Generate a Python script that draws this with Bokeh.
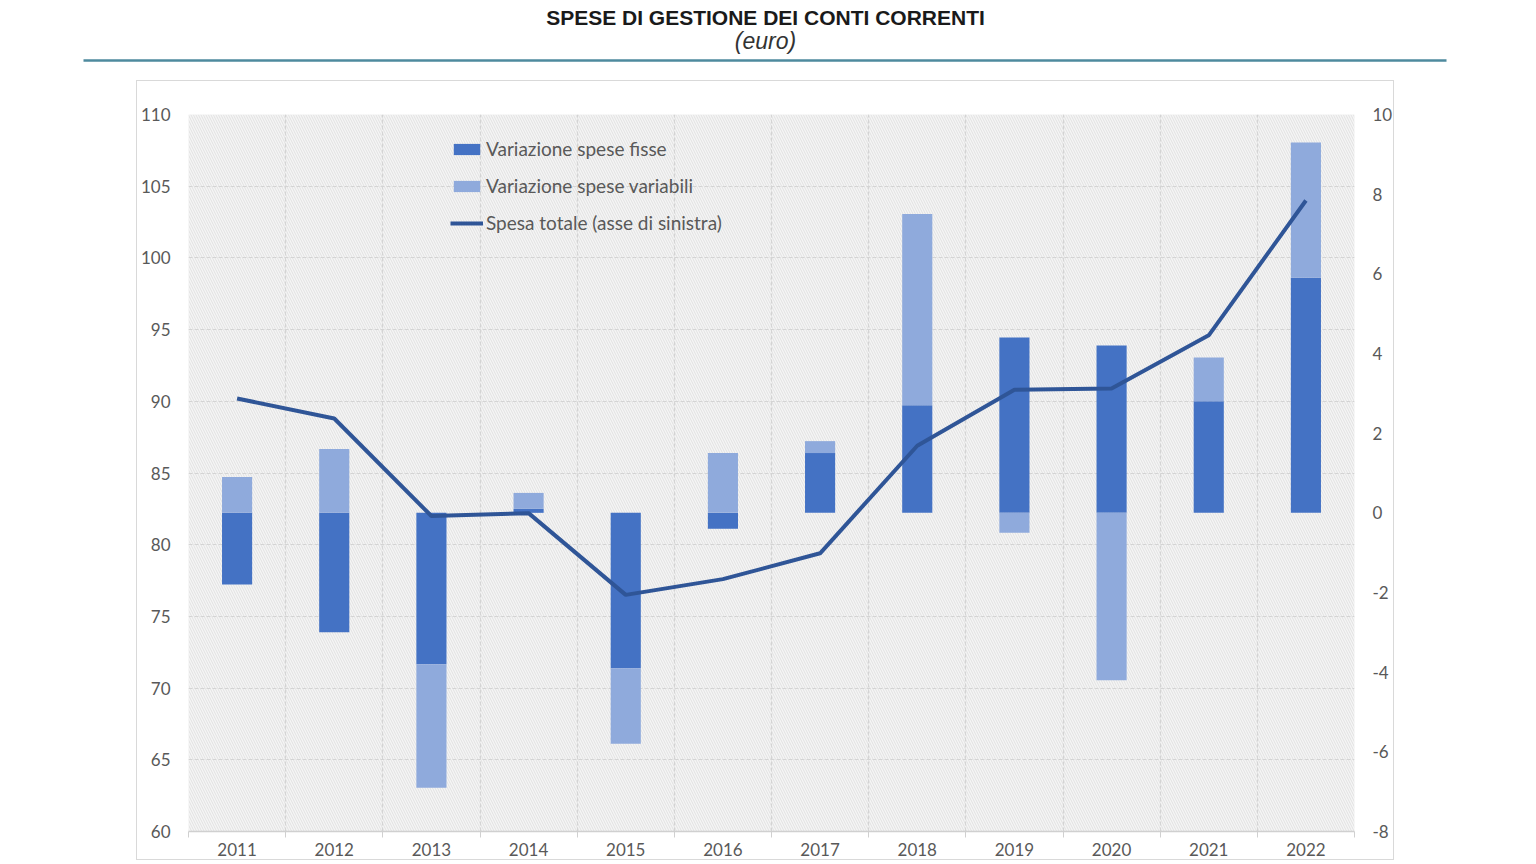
import numpy as np
from bokeh.plotting import figure
from bokeh.models import Range1d, LinearAxis, FixedTicker, Legend, Spacer
from bokeh.layouts import column, row
from bokeh.core.properties import value
from bokeh.embed import file_html
from bokeh.resources import INLINE

# dati
anni = ["2011", "2012", "2013", "2014", "2015", "2016", "2017", "2018", "2019", "2020", "2021", "2022"]
spesa_totale = [90.2, 88.8, 82.0, 82.2, 76.5, 77.6, 79.4, 86.9, 90.8, 90.9, 94.6, 104.0]
var_fisse = [-1.8, -3.0, -3.8, 0.1, -3.9, -0.4, 1.5, 2.7, 4.4, 4.2, 2.8, 5.9]
var_variabili = [0.9, 1.6, -3.1, 0.4, -1.9, 1.5, 0.3, 4.8, -0.5, -4.2, 1.1, 3.4]
tick_sinistra = list(range(60, 111, 5))
tick_destra = list(range(-8, 11, 2))

FONT = "Lato"
GRIGIO = "#595959"

# intestazione: titolo, sottotitolo e riga
h = figure(width=1536, height=80, x_range=Range1d(0, 1536), y_range=Range1d(80, 0),
           x_axis_location=None, y_axis_location=None, toolbar_location=None,
           output_backend="svg", min_border=0)
h.outline_line_color = None
h.grid.visible = False
h.text(x=[765], y=[17], text=["SPESE DI GESTIONE DEI CONTI CORRENTI"],
       text_font=value("Liberation Sans"), text_font_style="bold", text_font_size="21px",
       text_color="#1a1a1a", text_align="center", text_baseline="alphabetic")
h.text(x=[765], y=[40], text=["(euro)"],
       text_font=value("Liberation Sans"), text_font_style="italic", text_font_size="23px",
       text_color="#333333", text_align="center", text_baseline="alphabetic")
h.segment(x0=[83], y0=[60], x1=[1446], y1=[60], line_color="#4e8a9e", line_width=2.5)

# grafico principale
x = np.arange(len(anni))
f = np.array(var_fisse)
v = np.array(var_variabili)
base = np.where(np.sign(v) == np.sign(f), f, 0.0)

ALTEZZA = 780
BORDO_TOP, BORDO_BOTTOM = 33, 30
p = figure(width=1258, height=ALTEZZA, x_range=Range1d(-0.5, len(anni) - 0.5),
           y_range=Range1d(60, 110), toolbar_location=None, output_backend="svg",
           min_border_left=51, min_border_right=41, min_border_top=BORDO_TOP,
           min_border_bottom=BORDO_BOTTOM,
           styles={"border": "1px solid #d9d9d9", "box-sizing": "border-box"})
p.extra_y_ranges = {"destra": Range1d(-8, 10)}
p.outline_line_color = None
p.background_fill_color = "#f5f5f5"

# sfondo tratteggiato
p.quad(left=[-0.5], right=[len(anni) - 0.5], bottom=[60], top=[110], fill_color="#f5f5f5",
       line_color=None, hatch_pattern="left_diagonal_line", hatch_color="#dcdcdc",
       hatch_scale=5, hatch_weight=0.8, level="image")

r_fisse = p.vbar(x=x, bottom=np.minimum(f, 0), top=np.maximum(f, 0), width=0.31,
                 fill_color="#4472c4", line_color=None, y_range_name="destra")
r_var = p.vbar(x=x, bottom=np.minimum(base, base + v), top=np.maximum(base, base + v), width=0.31,
               fill_color="#8faadc", line_color=None, y_range_name="destra")
r_tot = p.line(x=x, y=spesa_totale, line_color="#2f5597", line_width=4)

# assi
p.yaxis.ticker = FixedTicker(ticks=tick_sinistra)
p.xaxis.ticker = FixedTicker(ticks=list(x), minor_ticks=list(np.arange(-0.5, len(anni), 1.0)))
p.xaxis.major_label_overrides = {int(i): a for i, a in zip(x, anni)}
ax_destra = LinearAxis(y_range_name="destra", ticker=FixedTicker(ticks=tick_destra))
ax_destra.major_label_overrides = {t: str(t) for t in tick_destra}
p.add_layout(ax_destra, "right")

for ax in [p.yaxis[0], ax_destra]:
    ax.axis_line_color = None
    ax.major_tick_line_color = None
    ax.minor_tick_line_color = None
    ax.major_tick_out = 0
    ax.minor_tick_out = 0
    ax.major_label_standoff = 18
for ax in [p.yaxis[0], ax_destra, p.xaxis[0]]:
    ax.major_label_text_font = FONT
    ax.major_label_text_font_size = "17px"
    ax.major_label_text_color = GRIGIO
p.xaxis.axis_line_color = "#d0d0d0"
p.xaxis.axis_line_width = 1.5
p.xaxis.major_tick_line_color = None
p.xaxis.major_tick_out = 0
p.xaxis.minor_tick_line_color = "#d0d0d0"
p.xaxis.minor_tick_out = 6
p.xaxis.minor_tick_in = 0
p.xaxis.major_label_standoff = 5

p.ygrid.ticker = FixedTicker(ticks=tick_sinistra)
p.xgrid.ticker = FixedTicker(ticks=list(np.arange(-0.5, len(anni), 1.0)))
p.grid.grid_line_color = "#d4d4d4"
p.grid.grid_line_width = 1.2
p.grid.grid_line_dash = "4 2"

# legenda
altezza_frame = ALTEZZA - BORDO_TOP - BORDO_BOTTOM
legend = Legend(items=[("Variazione spese fisse", [r_fisse]),
                       ("Variazione spese variabili", [r_var]),
                       ("Spesa totale (asse di sinistra)", [r_tot])],
                location=(262, altezza_frame - 23 - 97),
                glyph_width=33, glyph_height=14, label_height=23, spacing=14,
                label_standoff=3, padding=0, margin=0,
                border_line_color=None, background_fill_alpha=0,
                label_text_font=FONT, label_text_font_size="19px", label_text_color=GRIGIO)
p.add_layout(legend)

layout = column(h, row(Spacer(width=136), p))
open("out.html", "w").write(file_html(layout, INLINE))
